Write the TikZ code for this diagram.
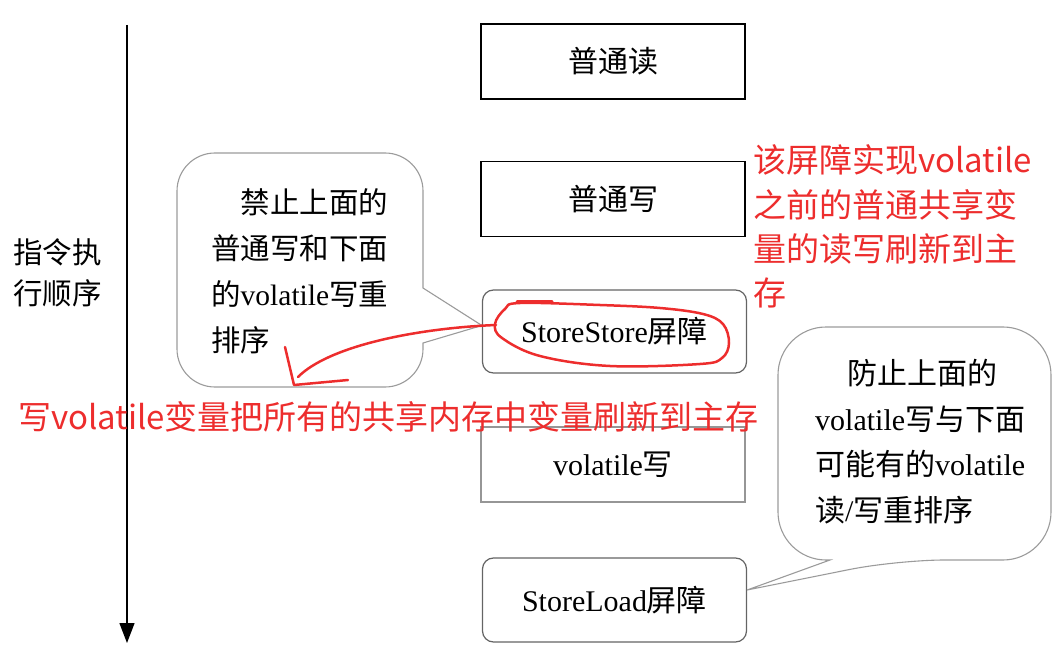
\documentclass[tikz,border=0pt]{standalone}
\usepackage{fontspec}
\setmainfont{Liberation Serif}
\newfontfamily\cjk{Noto Sans CJK SC}
\usetikzlibrary{arrows.meta}
\definecolor{NoteClr}{RGB}{237,45,45}
\definecolor{BubbleClr}{RGB}{155,155,155}
\definecolor{FenceClr}{RGB}{100,100,100}
\definecolor{VolClr}{RGB}{150,150,150}
\newcommand{\zh}[1]{{\cjk #1}}

\begin{document}
\begin{tikzpicture}[x=1pt,y=-1pt,
  opbox/.style={draw=black,line width=1.2pt,minimum width=264pt,minimum height=75pt,inner sep=0pt,font=\fontsize{30}{36}\selectfont},
  fencebox/.style={opbox,draw=FenceClr,rounded corners=11pt,minimum height=83pt},
  bubble/.style={draw=BubbleClr,line width=1.1pt},
  bubbletext/.style={anchor=west,align=left,inner sep=0pt,font=\fontsize{29.5}{46}\selectfont},
  note/.style={anchor=west,align=left,inner sep=0pt,text=NoteClr,font=\fontsize{33}{44.3}\selectfont\cjk},
  scribble/.style={draw=NoteClr,line width=2.5pt,line cap=round,line join=round}]

\useasboundingbox (0,0) rectangle (1053,671);

\node[opbox] (read) at (613,61.5) {\zh{普通读}};
\node[opbox] (write) at (613,199) {\zh{普通写}};
\node[fencebox] (sstore) at (614.5,331.5) {StoreStore\zh{屏障}};
\node[opbox,draw=VolClr] (vwrite) at (613,464.5) {volatile\zh{写}};
\node[fencebox,minimum height=84pt] (sload) at (614.5,600) {StoreLoad\zh{屏障}};

\coordinate (start) at (127,25);
\coordinate (end) at (127,643);
\draw[line width=1.3pt,-{Triangle[width=15pt,length=20pt]}] (start) -- (end);
\node[bubbletext,font=\fontsize{29.5}{41}\selectfont\cjk] (order) at (13,272.5) {指令执\\行顺序};

\draw[bubble] (300,153) [rounded corners=38pt] -- (423,153) -- (423,250) [sharp corners] -- (423,288)
  -- ([yshift=6pt]sstore.west) -- (423,343) -- (423,349) [rounded corners=38pt] -- (423,387) -- (177,387) -- (177,153) -- cycle;
\node[bubbletext] (leftnote) at (211,271.5) {\hspace*{29.5pt}\zh{禁止上面的}\\\zh{普通写和下面}\\\zh{的}volatile\zh{写重}\\\zh{排序}};

\draw[bubble] (914,327) [rounded corners=48pt] -- (1051,327) -- (1051,560) -- (897,560) [sharp corners]
  -- ([yshift=10pt]sload.east) -- (830,560) -- (826,560) [rounded corners=48pt] -- (778,560) -- (778,327) -- cycle;
\node[bubbletext,font=\fontsize{30}{45.7}\selectfont] (rightnote) at (815,441.5) {\hspace*{32pt}\zh{防止上面的}\\volatile\zh{写与下面}\\\zh{可能有的}volatile\\\zh{读}/\zh{写重排序}};

\draw[scribble] plot[smooth cycle,tension=0.6] coordinates {(520,303) (600,305) (660,308) (703,314) (723,324) (729,343) (722,358) (700,364) (610,366) (540,356) (502,338) (495,324) (505,309)};
\draw[scribble,line width=3pt] (517,302) -- (552,302);
\coordinate (ring) at (496,325);
\draw[scribble] (ring) .. controls (420,328) and (330,345) .. (298,377);
\draw[scribble] (285,347) -- (294,385) -- (348,380);

\node[note] (barrier) at (753,226.5) {该屏障实现volatile\\之前的普通共享变\\量的读写刷新到主\\存};
\node[note] (flush) at (18,417) {写volatile变量把所有的共享内存中变量刷新到主存};

\end{tikzpicture}
\end{document}
